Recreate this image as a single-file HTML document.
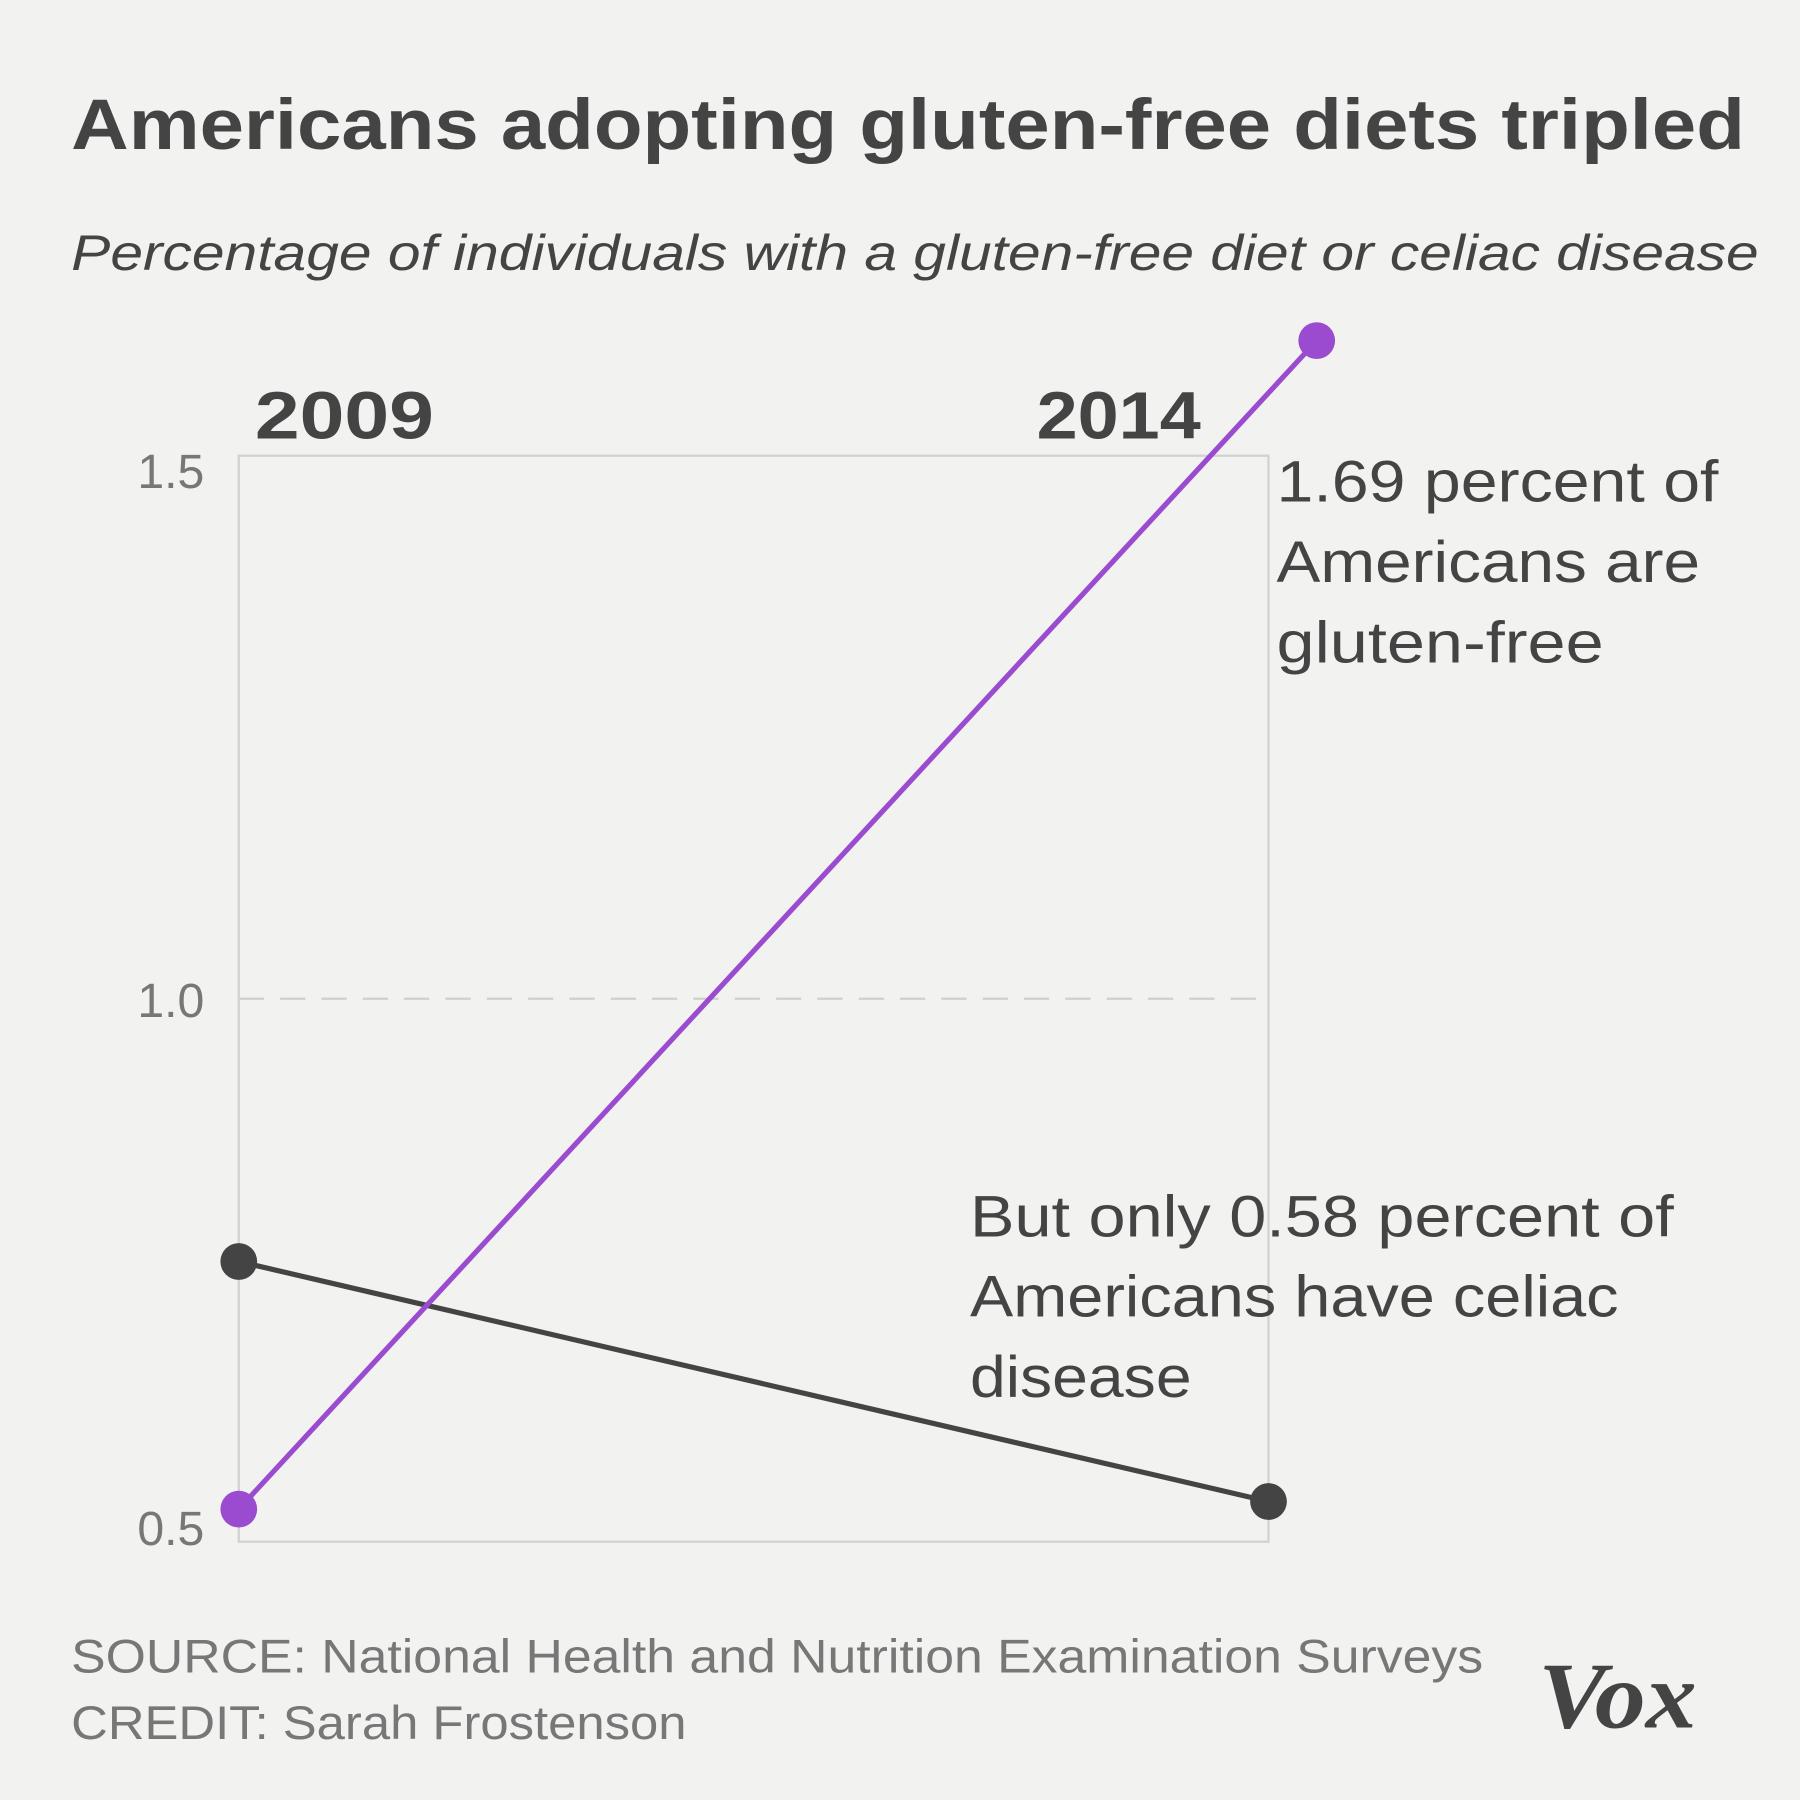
<!DOCTYPE html>
<html><head><meta charset="utf-8"><style>
html,body{margin:0;padding:0;background:#f2f3f1;}
svg{display:block;}
text{font-family:"Liberation Sans",sans-serif;}
</style></head><body>
<svg id="chart" width="1800" height="1800" viewBox="0 0 1568 1568" xmlns="http://www.w3.org/2000/svg">
<rect width="1568" height="1568" fill="#f2f3f1"/>
<text x="62" y="130" font-size="62" font-weight="bold" fill="#444" textLength="1458" lengthAdjust="spacingAndGlyphs">Americans adopting gluten-free diets tripled</text>
<text x="62" y="235" font-size="44" font-style="italic" fill="#444" textLength="1470" lengthAdjust="spacingAndGlyphs">Percentage of individuals with a gluten-free diet or celiac disease</text>
<g id="plot"></g>
<text x="222" y="382" font-size="58" font-weight="bold" fill="#444" textLength="156" lengthAdjust="spacingAndGlyphs">2009</text>
<text x="903" y="382" font-size="58" font-weight="bold" fill="#444" textLength="143" lengthAdjust="spacingAndGlyphs">2014</text>
<g font-size="51" fill="#444">
<text x="1112" y="437" textLength="385" lengthAdjust="spacingAndGlyphs">1.69 percent of</text>
<text x="1112" y="507" textLength="369" lengthAdjust="spacingAndGlyphs">Americans are</text>
<text x="1112" y="577" textLength="285" lengthAdjust="spacingAndGlyphs">gluten-free</text>
</g>
<g font-size="51" fill="#444">
<text x="845" y="1077" textLength="613" lengthAdjust="spacingAndGlyphs">But only 0.58 percent of</text>
<text x="845" y="1147" textLength="565" lengthAdjust="spacingAndGlyphs">Americans have celiac</text>
<text x="845" y="1217" textLength="193" lengthAdjust="spacingAndGlyphs">disease</text>
</g>
<text x="62" y="1457" font-size="41" fill="#777" textLength="1230" lengthAdjust="spacingAndGlyphs">SOURCE: National Health and Nutrition Examination Surveys</text>
<text x="62" y="1515" font-size="41" fill="#777" textLength="536" lengthAdjust="spacingAndGlyphs">CREDIT: Sarah Frostenson</text>
<text x="1340" y="1505" font-size="82" font-weight="bold" font-style="italic" fill="#444" style="font-family:'Liberation Serif',serif" textLength="138" lengthAdjust="spacingAndGlyphs">Vox</text>
</svg>
<script>
const years = ["2009", "2014"];
const glutenFree = [0.53, 1.606];
const celiac = [0.758, 0.537];
const yTicks = [0.5, 1.0, 1.5];
const yTickLabels = ["0.5", "1.0", "1.5"];

const NS = "http://www.w3.org/2000/svg";
const plot = document.getElementById("plot");
const X0 = 208, X1 = 1105, Y0 = 1343, Y1 = 397;
const xScale = i => X0 + (X1 - X0) * i / (years.length - 1);
const yScale = v => Y0 - (v - 0.5) / (1.5 - 0.5) * (Y0 - Y1);
function mk(tag, attrs) {
  const e = document.createElementNS(NS, tag);
  for (const k in attrs) e.setAttribute(k, attrs[k]);
  plot.appendChild(e);
  return e;
}
const frame = mk("rect", {x: X0, y: Y1, width: X1 - X0, height: Y0 - Y1, fill: "none", stroke: "#d2d2d2", "stroke-width": 2});


yTicks.forEach((t, i) => {
  const y = yScale(t);
  if (t > 0.5 && t < 1.5) {
    const g = mk("line", {x1: X0, x2: X1, y1: y, y2: y, stroke: "#cfcfcf", "stroke-width": 2, "stroke-dasharray": "22 14"});
    
    
  }
  const off = t >= 1.5 ? 28 : (t <= 0.5 ? 3 : 16);
  const lab = mk("text", {x: 178, y: y + off, "font-size": 42, fill: "#777", "text-anchor": "end"});
  lab.textContent = yTickLabels[i];
  
  
});
function series(vals, color, name, lastOffset, w) {
  const pts = vals.map((v, i) => [xScale(i) + (i === vals.length - 1 ? lastOffset : 0), yScale(v)]);
  const l = mk("polyline", {points: pts.map(p => p.join(",")).join(" "), fill: "none", stroke: color, "stroke-width": w});
  
  
  pts.forEach(p => {
    const c = mk("circle", {cx: p[0], cy: p[1], r: 16, fill: color});
    
    
  });
}
series(celiac, "#444444", "celiac", 0, 4.5);
series(glutenFree, "#9a4bcf", "gluten-free", 42, 4.5);
</script>
</body></html>
